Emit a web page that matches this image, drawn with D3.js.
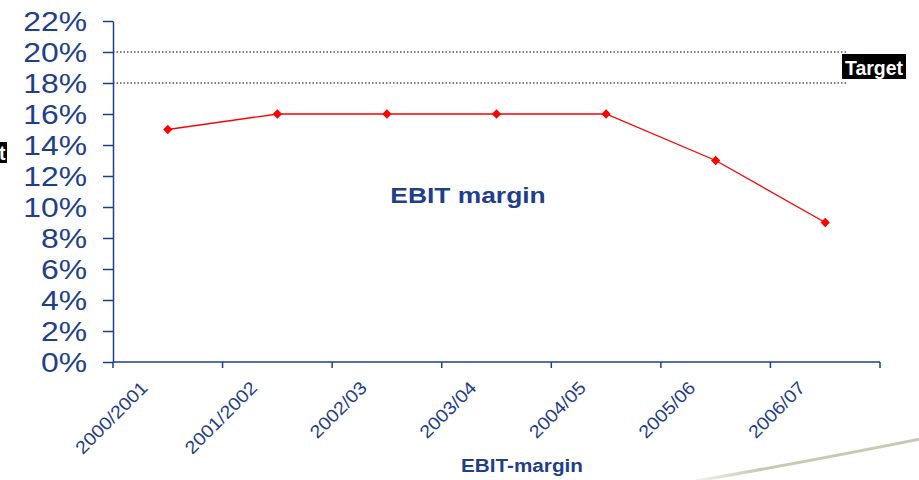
<!DOCTYPE html>
<html><head><meta charset="utf-8">
<script src="https://cdn.jsdelivr.net/npm/d3@7"></script>
<style>body{margin:0;background:#fff}svg{display:block}text{font-family:"Liberation Sans",Arial,sans-serif}</style>
</head><body><svg id="c" width="919" height="480"></svg>
<script>
const categories = ["2000/2001","2001/2002","2002/03","2003/04","2004/05","2005/06","2006/07"];
const ebitMargin = [15,16,16,16,16,13,9];
const targetLow = 18, targetHigh = 20;
const yTicks = [0,2,4,6,8,10,12,14,16,18,20,22];

const svg = d3.select("#c");
const blue = "#1F3F8A";
const x = d3.scaleBand().domain(categories).range([113,880]);
const y = d3.scaleLinear().domain([0,22]).range([362,21]);

// swoosh decoration
const grad = svg.append("defs").append("linearGradient").attr("id","sw").attr("x1","0").attr("x2","1");
grad.append("stop").attr("offset","0").attr("stop-color","#c9c9b3").attr("stop-opacity",0.2);
grad.append("stop").attr("offset","0.3").attr("stop-color","#c9c9b3").attr("stop-opacity",1);
grad.append("stop").attr("offset","1").attr("stop-color","#c9c9b3").attr("stop-opacity",1);
svg.append("path").attr("d","M690,482 C760,470 840,455 925,438").attr("fill","none")
  .attr("stroke","url(#sw)").attr("stroke-width",3);

// target dotted lines
[targetHigh,targetLow].forEach(v=>{
  svg.append("line").attr("x1",113).attr("x2",847).attr("y1",y(v)).attr("y2",y(v))
    .attr("stroke","#000").attr("stroke-width",1.2).attr("stroke-dasharray","1.5,2");
});

// y axis
const ys = 1.18;
const ya = svg.append("g").attr("transform","translate(113,0)")
  .call(d3.axisLeft(y).tickValues(yTicks).tickFormat(d=>d+"%").tickSize(10).tickSizeOuter(0));
ya.selectAll("line,path").attr("stroke",blue).attr("stroke-width",1.5);
ya.selectAll("text").attr("fill",blue).attr("font-size",27).attr("x",-26/ys).attr("dy","0.36em")
  .attr("transform",`scale(${ys},1)`);

// x axis
const xa = svg.append("g").attr("transform","translate(0,362)");
xa.append("line").attr("x1",113).attr("x2",880).attr("stroke",blue).attr("stroke-width",1.5);
const bounds = categories.map(c=>x(c)).concat([x.range()[1]]);
xa.selectAll("line.t").data(bounds).join("line").attr("class","t")
  .attr("x1",d=>d).attr("x2",d=>d).attr("y1",0).attr("y2",6).attr("stroke",blue).attr("stroke-width",1.5);
xa.selectAll("text").data(categories).join("text")
  .attr("transform",d=>`translate(${x(d)+x.bandwidth()/2-19},27) rotate(-45) scale(1.1,1)`)
  .attr("text-anchor","end").attr("fill",blue).attr("font-size",18).text(d=>d);

// line
const cx = d=>x(d)+x.bandwidth()/2;
svg.append("path").datum(ebitMargin).attr("fill","none").attr("stroke","#ff0000").attr("stroke-width",1.3)
  .attr("d",d3.line().x((d,i)=>cx(categories[i])).y(d=>y(d)));
svg.selectAll("path.m").data(ebitMargin).join("path").attr("class","m")
  .attr("d",d3.symbol(d3.symbolDiamond2,55))
  .attr("transform",(d,i)=>`translate(${cx(categories[i])},${y(d)})`).attr("fill","#ff0000");

// labels
svg.append("text").attr("transform","translate(468,203) scale(1.2,1)").attr("text-anchor","middle").attr("font-weight","bold")
  .attr("font-size",22).attr("fill",blue).text("EBIT margin");
svg.append("text").attr("transform","translate(522,472) scale(1.09,1)").attr("text-anchor","middle").attr("font-weight","bold")
  .attr("font-size",19).attr("fill",blue).text("EBIT-margin");

// Target boxes
svg.append("rect").attr("x",842).attr("y",54).attr("width",64).attr("height",25).attr("fill","#000");
svg.append("text").attr("x",874).attr("y",75).attr("text-anchor","middle").attr("font-weight","bold")
  .attr("font-size",19.5).attr("fill","#fff").text("Target");
svg.append("rect").attr("x",0).attr("y",142).attr("width",7).attr("height",21).attr("fill","#000");
svg.append("text").attr("x",-1).attr("y",160).attr("font-weight","bold")
  .attr("font-size",19.5).attr("fill","#fff").text("t");
</script></body></html>
